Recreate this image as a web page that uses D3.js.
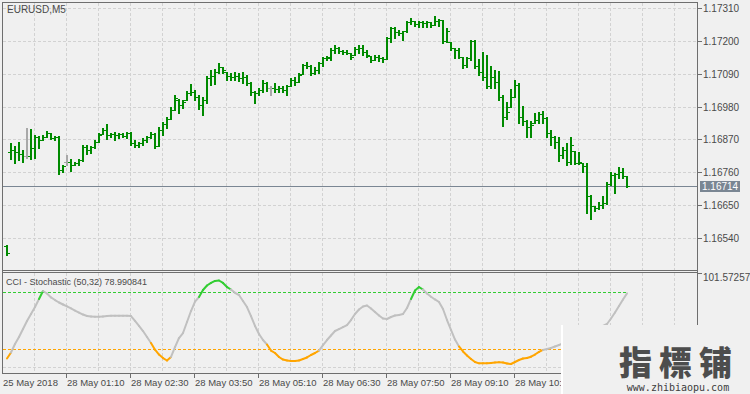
<!DOCTYPE html>
<html>
<head>
<meta charset="utf-8">
<script src="https://cdn.jsdelivr.net/npm/d3@7"></script>
<style>
  html, body { margin: 0; padding: 0; background: #f0f0f0; }
  svg { display: block; }
</style>
</head>
<body>
<div id="chart"></div>
<script>
// EURUSD M5 bars, 25 May 23:55 .. 28 May 12:50 (one per 5 minutes)
var open = [
1.16511, 1.16827, 1.16834, 1.16827, 1.16821, 1.16814, 1.16814, 1.16841, 1.16878, 1.16868,
1.16878, 1.16891, 1.16874, 1.16878, 1.16767, 1.16794, 1.16794, 1.16784, 1.16790, 1.16800,
1.16844, 1.16834, 1.16844, 1.16861, 1.16888, 1.16901, 1.16884, 1.16888, 1.16884, 1.16888,
1.16881, 1.16891, 1.16858, 1.16851, 1.16858, 1.16868, 1.16878, 1.16888, 1.16847, 1.16901,
1.16921, 1.16938, 1.16968, 1.17002, 1.16985, 1.17002, 1.17026, 1.17029, 1.17012, 1.16985,
1.17002, 1.17076, 1.17083, 1.17096, 1.17113, 1.17096, 1.17083, 1.17079, 1.17083, 1.17076,
1.17079, 1.17059, 1.17029, 1.17026, 1.17036, 1.17059, 1.17042, 1.17042, 1.17039, 1.17042,
1.17036, 1.17049, 1.17069, 1.17062, 1.17089, 1.17120, 1.17116, 1.17093, 1.17103, 1.17126,
1.17143, 1.17143, 1.17170, 1.17177, 1.17167, 1.17163, 1.17160, 1.17153, 1.17173, 1.17177,
1.17163, 1.17150, 1.17136, 1.17146, 1.17143, 1.17140, 1.17210, 1.17244, 1.17230, 1.17227,
1.17234, 1.17264, 1.17267, 1.17257, 1.17264, 1.17261, 1.17264, 1.17254, 1.17267, 1.17271,
1.17200, 1.17197, 1.17177, 1.17170, 1.17146, 1.17120, 1.17143, 1.17200, 1.17116, 1.17096,
1.17079, 1.17049, 1.17079, 1.17062, 1.17012, 1.16945, 1.16978, 1.17012, 1.17052, 1.16945,
1.16931, 1.16911, 1.16925, 1.16935, 1.16955, 1.16942, 1.16891, 1.16878, 1.16861, 1.16817,
1.16834, 1.16794, 1.16831, 1.16790, 1.16790, 1.16780, 1.16679, 1.16646, 1.16639, 1.16649,
1.16656, 1.16720, 1.16750, 1.16753, 1.16760, 1.16747
];
var high = [
1.16515, 1.16858, 1.16847, 1.16861, 1.16834, 1.16908, 1.16905, 1.16884, 1.16881, 1.16884,
1.16898, 1.16891, 1.16881, 1.16881, 1.16784, 1.16817, 1.16804, 1.16794, 1.16804, 1.16851,
1.16851, 1.16847, 1.16868, 1.16891, 1.16908, 1.16921, 1.16891, 1.16894, 1.16891, 1.16891,
1.16894, 1.16894, 1.16868, 1.16861, 1.16874, 1.16881, 1.16894, 1.16891, 1.16911, 1.16928,
1.16945, 1.16978, 1.17019, 1.17005, 1.17002, 1.17032, 1.17056, 1.17036, 1.17019, 1.17012,
1.17083, 1.17103, 1.17106, 1.17126, 1.17113, 1.17096, 1.17093, 1.17096, 1.17093, 1.17096,
1.17086, 1.17062, 1.17032, 1.17042, 1.17069, 1.17062, 1.17049, 1.17059, 1.17049, 1.17049,
1.17052, 1.17076, 1.17079, 1.17093, 1.17123, 1.17130, 1.17120, 1.17113, 1.17130, 1.17146,
1.17150, 1.17177, 1.17187, 1.17180, 1.17170, 1.17170, 1.17160, 1.17180, 1.17187, 1.17187,
1.17170, 1.17150, 1.17153, 1.17153, 1.17146, 1.17214, 1.17247, 1.17247, 1.17237, 1.17234,
1.17267, 1.17278, 1.17267, 1.17267, 1.17267, 1.17267, 1.17264, 1.17284, 1.17274, 1.17271,
1.17244, 1.17197, 1.17177, 1.17177, 1.17146, 1.17146, 1.17204, 1.17204, 1.17140, 1.17163,
1.17153, 1.17116, 1.17103, 1.17099, 1.17019, 1.16995, 1.17039, 1.17069, 1.17059, 1.16982,
1.16935, 1.16931, 1.16958, 1.16962, 1.16965, 1.16945, 1.16901, 1.16881, 1.16878, 1.16844,
1.16858, 1.16878, 1.16831, 1.16827, 1.16790, 1.16790, 1.16683, 1.16646, 1.16659, 1.16679,
1.16726, 1.16760, 1.16757, 1.16777, 1.16774, 1.16747
];
var low = [
1.16481, 1.16804, 1.16790, 1.16800, 1.16794, 1.16807, 1.16804, 1.16807, 1.16841, 1.16868,
1.16878, 1.16871, 1.16868, 1.16753, 1.16760, 1.16784, 1.16763, 1.16784, 1.16784, 1.16797,
1.16821, 1.16824, 1.16841, 1.16861, 1.16888, 1.16871, 1.16878, 1.16868, 1.16874, 1.16878,
1.16874, 1.16851, 1.16844, 1.16844, 1.16851, 1.16861, 1.16874, 1.16841, 1.16847, 1.16884,
1.16908, 1.16938, 1.16968, 1.16958, 1.16975, 1.17002, 1.17019, 1.17002, 1.16972, 1.16952,
1.16992, 1.17052, 1.17056, 1.17093, 1.17093, 1.17069, 1.17069, 1.17069, 1.17066, 1.17059,
1.17052, 1.17019, 1.16992, 1.17019, 1.17029, 1.17032, 1.17019, 1.17029, 1.17029, 1.17029,
1.17019, 1.17049, 1.17052, 1.17062, 1.17089, 1.17110, 1.17086, 1.17089, 1.17093, 1.17116,
1.17136, 1.17136, 1.17160, 1.17160, 1.17157, 1.17157, 1.17140, 1.17153, 1.17160, 1.17153,
1.17146, 1.17130, 1.17136, 1.17133, 1.17130, 1.17140, 1.17197, 1.17210, 1.17220, 1.17204,
1.17230, 1.17257, 1.17251, 1.17247, 1.17247, 1.17247, 1.17247, 1.17254, 1.17251, 1.17194,
1.17197, 1.17170, 1.17143, 1.17143, 1.17110, 1.17113, 1.17136, 1.17110, 1.17086, 1.17069,
1.17042, 1.17042, 1.17042, 1.17002, 1.16915, 1.16938, 1.16978, 1.17012, 1.16925, 1.16918,
1.16878, 1.16878, 1.16925, 1.16925, 1.16925, 1.16878, 1.16851, 1.16841, 1.16797, 1.16807,
1.16784, 1.16787, 1.16787, 1.16787, 1.16760, 1.16622, 1.16602, 1.16629, 1.16636, 1.16639,
1.16653, 1.16716, 1.16690, 1.16740, 1.16740, 1.16710
];
var close = [
1.16488, 1.16834, 1.16827, 1.16821, 1.16814, 1.16814, 1.16841, 1.16878, 1.16868, 1.16878,
1.16891, 1.16874, 1.16878, 1.16767, 1.16780, 1.16794, 1.16784, 1.16790, 1.16800, 1.16844,
1.16834, 1.16844, 1.16861, 1.16884, 1.16901, 1.16884, 1.16888, 1.16884, 1.16888, 1.16881,
1.16891, 1.16858, 1.16851, 1.16858, 1.16868, 1.16878, 1.16888, 1.16847, 1.16901, 1.16921,
1.16938, 1.16968, 1.17009, 1.16985, 1.16995, 1.17026, 1.17029, 1.17012, 1.16985, 1.17002,
1.17076, 1.17083, 1.17096, 1.17113, 1.17103, 1.17083, 1.17079, 1.17083, 1.17076, 1.17079,
1.17059, 1.17029, 1.17026, 1.17036, 1.17059, 1.17042, 1.17042, 1.17039, 1.17042, 1.17036,
1.17049, 1.17069, 1.17062, 1.17086, 1.17120, 1.17116, 1.17093, 1.17103, 1.17126, 1.17143,
1.17146, 1.17170, 1.17177, 1.17167, 1.17163, 1.17160, 1.17146, 1.17173, 1.17177, 1.17163,
1.17153, 1.17136, 1.17146, 1.17143, 1.17140, 1.17210, 1.17244, 1.17230, 1.17227, 1.17234,
1.17264, 1.17267, 1.17257, 1.17264, 1.17261, 1.17264, 1.17254, 1.17267, 1.17271, 1.17200,
1.17234, 1.17177, 1.17170, 1.17146, 1.17120, 1.17143, 1.17200, 1.17116, 1.17096, 1.17079,
1.17049, 1.17079, 1.17062, 1.17012, 1.16945, 1.16962, 1.17012, 1.17052, 1.16945, 1.16931,
1.16911, 1.16918, 1.16935, 1.16955, 1.16942, 1.16891, 1.16878, 1.16861, 1.16817, 1.16834,
1.16794, 1.16851, 1.16790, 1.16794, 1.16780, 1.16679, 1.16646, 1.16639, 1.16649, 1.16656,
1.16720, 1.16750, 1.16753, 1.16760, 1.16747, 1.16714
];

// CCI - Stochastic (50,32), one value per bar
var stoch = [
10.3, 16.6, 25.6, 33.0, 41.4, 49.9, 57.3, 64.6, 73.1, 81.5,
78.9, 74.7, 72.0, 69.4, 67.3, 65.2, 63.1, 60.9, 58.8, 56.7,
55.1, 54.6, 54.4, 54.4, 54.6, 55.1, 55.4, 55.5, 55.5, 55.5,
55.5, 55.1, 49.9, 44.6, 39.3, 33.0, 26.7, 19.6, 14.5, 10.8,
8.2, 11.9, 22.4, 31.9, 37.2, 48.8, 60.4, 70.4, 75.2, 82.6,
87.3, 90.0, 92.1, 92.6, 90.0, 85.7, 83.1, 79.6, 77.3, 71.0,
64.6, 55.1, 44.6, 36.2, 29.8, 25.1, 18.7, 16.1, 11.9, 9.2,
8.2, 7.7, 7.7, 8.2, 9.8, 11.4, 14.0, 16.1, 18.7, 24.5,
29.8, 34.6, 39.3, 41.4, 43.5, 45.6, 50.9, 57.3, 62.0, 65.2,
66.2, 63.1, 59.4, 55.7, 52.5, 52.0, 54.1, 55.7, 56.2, 57.3,
63.6, 73.1, 82.1, 85.7, 83.1, 78.9, 75.5, 72.6, 69.9, 62.5,
50.9, 40.4, 30.3, 23.0, 17.7, 13.5, 9.8, 6.6, 5.2, 5.2,
5.2, 5.6, 6.1, 6.3, 6.1, 5.0, 4.5, 6.6, 8.7, 10.3,
10.8, 12.2, 14.5, 17.2, 19.3, 20.3, 21.4, 23.0, 24.5, 26.3,
28.2, 30.3, 32.5, 34.0, 35.6, 37.2, 38.8, 40.4, 42.5, 44.6,
46.7, 52.5, 58.8, 65.7, 72.6, 78.990841
];
var levelHigh = 80, levelLow = 20;

// axes
var priceTicks = [1.17310, 1.17200, 1.17090, 1.16980, 1.16870, 1.16760, 1.16650, 1.16540];
var priceMin = 1.16431, priceMax = 1.17331;
var indMin = -5.0, indMax = 101.572577;
var timeLabels = ["25 May 2018", "28 May 01:10", "28 May 02:30", "28 May 03:50", "28 May 05:10",
                  "28 May 06:30", "28 May 07:50", "28 May 09:10", "28 May 10:30"];
var timeLabelBars = [-1, 15, 31, 47, 63, 79, 95, 111, 127];

var W = 750, H = 394;
var left = 2, right = 697, mainTop = 2, mainBottom = 270, indTop = 272, indBottom = 373;
var font = "'Liberation Sans', Arial, sans-serif";
var textColor = "#4a4a4a", frameColor = "#6e6e6e", gridColor = "#d2d2d2";
var barColor = "#008a00", dojiColor = "#a8a8a8";

var svg = d3.select("#chart").append("svg")
    .attr("width", W)
    .attr("height", H);

svg.append("rect").attr("width", W).attr("height", H).attr("fill", "#f0f0f0");

// scales
var x = d3.scaleLinear().domain([0, close.length - 1]).range([6, 6 + 4 * (close.length - 1)]);
var y = d3.scaleLinear().domain([priceMin, priceMax]).range([mainBottom, mainTop]);
var yInd = d3.scaleLinear().domain([indMin, indMax]).range([indBottom, indTop]);

function px(v) { return Math.round(v) + 0.5; }

// grid, vertical every 8 bars
var gridBars = d3.range(7, 168, 8);
var grid = svg.append("g").attr("stroke", gridColor).attr("stroke-dasharray", "3,2").attr("stroke-width", 1);
gridBars.forEach(function (b) {
    grid.append("line").attr("x1", px(x(b))).attr("x2", px(x(b)))
        .attr("y1", mainTop + 1).attr("y2", mainBottom);
    grid.append("line").attr("x1", px(x(b))).attr("x2", px(x(b)))
        .attr("y1", indTop + 1).attr("y2", indBottom);
});
priceTicks.forEach(function (t) {
    grid.append("line").attr("x1", left + 1).attr("x2", right)
        .attr("y1", px(y(t))).attr("y2", px(y(t)));
});
grid.append("line").attr("x1", left + 1).attr("x2", right)
    .attr("y1", px(yInd(0)) - 1).attr("y2", px(yInd(0)) - 1);

// current price line
var last = close[close.length - 1];
svg.append("line")
    .attr("x1", left).attr("x2", right)
    .attr("y1", px(y(last))).attr("y2", px(y(last)))
    .attr("stroke", "#7a8693").attr("stroke-width", 1);

// OHLC bars
var bars = svg.append("g").attr("shape-rendering", "crispEdges");
close.forEach(function (c, i) {
    var col = open[i] === c ? dojiColor : barColor;
    var bx = x(i);
    var yh = Math.round(y(high[i])), yl = Math.round(y(low[i]));
    bars.append("rect").attr("x", bx).attr("y", yh).attr("width", 2)
        .attr("height", Math.max(1, yl - yh + 1)).attr("fill", col);
    bars.append("rect").attr("x", bx - 2).attr("y", Math.round(y(open[i]))).attr("width", 2)
        .attr("height", 1).attr("fill", col);
    bars.append("rect").attr("x", bx + 2).attr("y", Math.round(y(c))).attr("width", 2)
        .attr("height", 1).attr("fill", col);
});

// indicator levels
svg.append("line")
    .attr("x1", left + 1).attr("x2", x(close.length - 1))
    .attr("y1", px(yInd(levelHigh))).attr("y2", px(yInd(levelHigh)))
    .attr("stroke", "#32cd32").attr("stroke-dasharray", "3,2");
svg.append("line")
    .attr("x1", left + 1).attr("x2", x(close.length - 1))
    .attr("y1", px(yInd(levelLow))).attr("y2", px(yInd(levelLow)))
    .attr("stroke", "#ffa500").attr("stroke-dasharray", "3,2");

// indicator line, each segment coloured by the zone of its end point
var ind = svg.append("g").attr("fill", "none").attr("stroke-width", 2).attr("stroke-linecap", "round");
var line = d3.line().x(function (d) { return x(d.i) + 1; }).y(function (d) { return yInd(d.v); });
for (var i = 1; i < stoch.length; i++) {
    var v = stoch[i];
    var col = v > levelHigh ? "#32cd32" : (v < levelLow ? "#ffa500" : "#c0c0c0");
    ind.append("path")
        .datum([{ i: i - 1, v: stoch[i - 1] }, { i: i, v: v }])
        .attr("d", line)
        .attr("stroke", col);
}

// frames
var frame = svg.append("g").attr("stroke", frameColor).attr("stroke-width", 1).attr("shape-rendering", "crispEdges");
[mainTop, mainBottom, indTop, indBottom].forEach(function (yy) {
    frame.append("line").attr("x1", left).attr("x2", right + 1).attr("y1", yy + 0.5).attr("y2", yy + 0.5);
});
frame.append("line").attr("x1", left + 0.5).attr("x2", left + 0.5).attr("y1", mainTop).attr("y2", indBottom + 1);
frame.append("line").attr("x1", right + 0.5).attr("x2", right + 0.5).attr("y1", mainTop).attr("y2", indBottom + 1);

// price axis
priceTicks.forEach(function (t) {
    frame.append("line").attr("x1", right).attr("x2", right + 5)
        .attr("y1", px(y(t))).attr("y2", px(y(t)));
    svg.append("text").attr("x", right + 6).attr("y", Math.round(y(t)) + 4)
        .attr("font-family", font).attr("font-size", "10px").attr("fill", textColor)
        .text(t.toFixed(5));
});
frame.append("line").attr("x1", right).attr("x2", right + 5)
    .attr("y1", indTop + 1.5).attr("y2", indTop + 1.5);
svg.append("text").attr("x", right + 6).attr("y", indTop + 9)
    .attr("font-family", font).attr("font-size", "10px").attr("fill", textColor)
    .text(indMax.toFixed(6));

// current price tag
var tagY = Math.round(y(last));
svg.append("rect").attr("x", right + 3).attr("y", tagY - 5).attr("width", 40).attr("height", 11)
    .attr("fill", "#7a8693");
svg.append("text").attr("x", right + 5).attr("y", tagY + 4)
    .attr("font-family", font).attr("font-size", "10px").attr("fill", "#ffffff")
    .text(last.toFixed(5));

// time axis
timeLabelBars.forEach(function (b, k) {
    if (b > 0) {
        frame.append("line").attr("x1", px(x(b))).attr("x2", px(x(b)))
            .attr("y1", indBottom).attr("y2", indBottom + 5);
    }
    svg.append("text").attr("x", x(b) + 1).attr("y", indBottom + 13)
        .attr("font-family", font).attr("font-size", "9.5px").attr("fill", textColor)
        .text(timeLabels[k]);
});

// panel titles
svg.append("text").attr("x", 7).attr("y", 13)
    .attr("font-family", font).attr("font-size", "10px").attr("fill", textColor)
    .text("EURUSD,M5");
svg.append("text").attr("x", 6).attr("y", indTop + 13)
    .attr("font-family", font).attr("font-size", "9px").attr("fill", textColor)
    .text("CCI - Stochastic (50,32) " + stoch[stoch.length - 1].toFixed(6));

// watermark
svg.append("rect").attr("x", 561).attr("y", 325).attr("width", W - 561).attr("height", H - 325)
    .attr("fill", "#f0f0f0");
svg.append("rect").attr("x", 561).attr("y", 325).attr("width", 2).attr("height", H - 325)
    .attr("fill", "#ffffff");
svg.append("text").attr("x", 679).attr("y", 375)
    .attr("text-anchor", "middle")
    .attr("font-family", "'Noto Sans CJK TC', 'Noto Sans CJK SC', sans-serif")
    .attr("font-weight", 900).attr("font-size", "33px").attr("letter-spacing", "7px")
    .attr("fill", "#4d4d4d")
    .text("指標铺");
svg.append("text").attr("x", 678).attr("y", 391)
    .attr("text-anchor", "middle")
    .attr("font-family", "'DejaVu Sans Mono', monospace").attr("font-size", "10px")
    .attr("fill", "#3c3c3c")
    .text("www.zhibiaopu.com");
</script>
</body>
</html>
